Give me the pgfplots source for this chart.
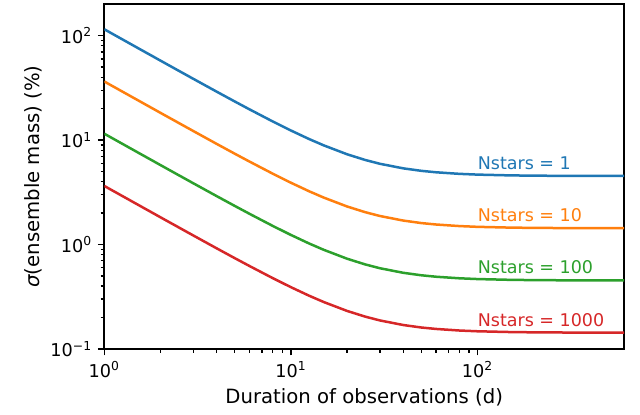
\documentclass[border=0pt]{standalone}
\usepackage{fontspec}
\setmainfont{DejaVu Sans}
\usepackage{pgfplots}
\pgfplotsset{compat=1.18}
\definecolor{tabblue}{HTML}{1F77B4}
\definecolor{taborange}{HTML}{FF7F0E}
\definecolor{tabgreen}{HTML}{2CA02C}
\definecolor{tabred}{HTML}{D62728}
\newcommand{\fs}{\fontsize{10.5}{12}\selectfont}
\newcommand{\fl}{\fontsize{11.8}{14}\selectfont}
\newcommand{\ft}{\fontsize{10.6}{12}\selectfont}
\begin{document}
\begin{tikzpicture}[font=\fs]
\useasboundingbox (-62.6pt,-39.6pt) rectangle (321.4pt,209.4pt);
\begin{axis}[
  at={(0,0)}, anchor=south west,
  scale only axis, width=311.8pt, height=207pt,
  xmode=log, ymode=log,
  xmin=1, xmax=610, ymin=0.1, ymax=201,
  xtick={1,10,100}, xticklabels={10\textsuperscript{0},10\textsuperscript{1},10\textsuperscript{2}},
  ytick={0.1,1,10,100}, yticklabels={10\textsuperscript{−1},10\textsuperscript{0},10\textsuperscript{1},10\textsuperscript{2}},
  tick align=outside, xtick pos=bottom, ytick pos=left,
  major tick length=3.9pt, minor tick length=2.3pt,
  every tick/.style={black, line width=0.8pt},
  axis line style={line width=1pt},
  tick label style={font=\ft},
  label style={font=\fl},
  xlabel={Duration of observations (d)},
  ylabel={{\itshape σ}(ensemble mass) (\%)},
  xlabel style={at={(axis description cs:0.5,0)}, anchor=north, yshift=-20pt},
  ylabel style={at={(axis description cs:0,0.5)}, anchor=south, yshift=34pt},
  every axis plot/.append style={line width=1.5pt, no marks},
  clip=true,
]
\addplot[tabblue] coordinates {
(1,115.09)(1.25,92.11)(1.5,76.80)(2,57.68)(2.5,46.22)(3,38.60)(4,29.10)(5,23.44)(6,19.70)(8,15.07)(10,12.36)(12.5,10.25)(15,8.905)(20,7.32)(25,6.456)(30,5.934)(40,5.365)(50,5.080)(60,4.919)(80,4.753)(100,4.674)(150,4.594)(200,4.566)(300,4.546)(400,4.539)(610,4.534)};
\addplot[taborange] coordinates {
(1,36.39)(1.25,29.13)(1.5,24.29)(2,18.24)(2.5,14.62)(3,12.21)(4,9.202)(5,7.412)(6,6.230)(8,4.766)(10,3.909)(12.5,3.241)(15,2.816)(20,2.315)(25,2.042)(30,1.877)(40,1.697)(50,1.606)(60,1.556)(80,1.503)(100,1.478)(150,1.453)(200,1.444)(300,1.438)(400,1.435)(610,1.434)};
\addplot[tabgreen] coordinates {
(1,11.509)(1.25,9.211)(1.5,7.680)(2,5.768)(2.5,4.622)(3,3.860)(4,2.910)(5,2.344)(6,1.970)(8,1.507)(10,1.236)(12.5,1.025)(15,0.8905)(20,0.732)(25,0.6456)(30,0.5934)(40,0.5365)(50,0.5080)(60,0.4919)(80,0.4753)(100,0.4674)(150,0.4594)(200,0.4566)(300,0.4546)(400,0.4539)(610,0.4534)};
\addplot[tabred] coordinates {
(1,3.639)(1.25,2.913)(1.5,2.429)(2,1.824)(2.5,1.462)(3,1.221)(4,0.9202)(5,0.7412)(6,0.6230)(8,0.4766)(10,0.3909)(12.5,0.3241)(15,0.2816)(20,0.2315)(25,0.2042)(30,0.1877)(40,0.1697)(50,0.1606)(60,0.1556)(80,0.1503)(100,0.1478)(150,0.1453)(200,0.1444)(300,0.1438)(400,0.1435)(610,0.1434)};
\node[anchor=base west, inner sep=0pt, text=tabblue] at (axis cs:100,5.25) {Nstars = 1};
\node[anchor=base west, inner sep=0pt, text=taborange] at (axis cs:100,1.65) {Nstars = 10};
\node[anchor=base west, inner sep=0pt, text=tabgreen] at (axis cs:100,0.53) {Nstars = 100};
\node[anchor=base west, inner sep=0pt, text=tabred] at (axis cs:100,0.1656) {Nstars = 1000};
\end{axis}
\end{tikzpicture}
\end{document}
